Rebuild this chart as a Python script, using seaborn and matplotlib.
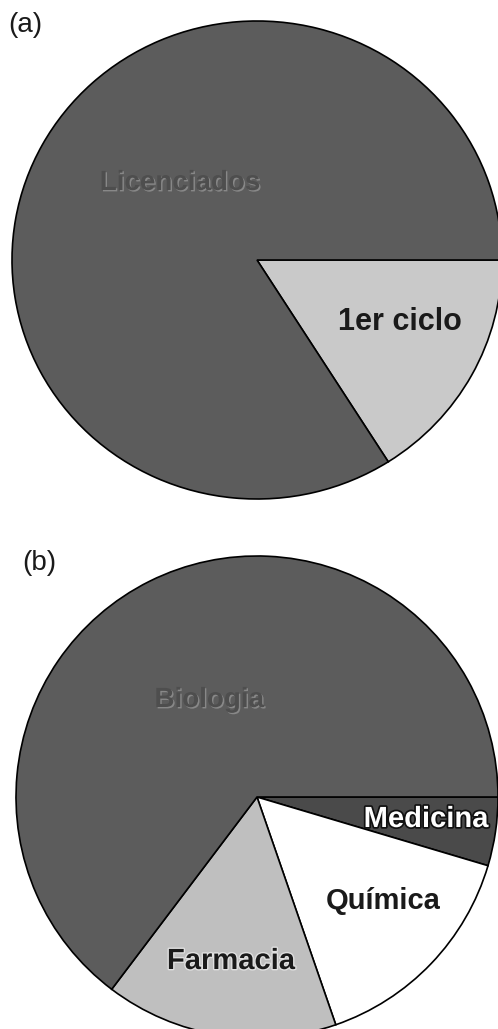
import matplotlib
matplotlib.use("Agg")
import matplotlib.pyplot as plt
import matplotlib.patheffects as pe
import seaborn as sns

# Data (a)
labels_a = ["1er ciclo", "Licenciados"]
values_a = [16.0, 84.0]
colors_a = ["#c9c9c9", "#5c5c5c"]

# Data (b)
labels_b = ["Medicina", "Química", "Farmacia", "Biologia"]
values_b = [4.6, 15.1, 15.6, 64.7]
colors_b = ["#4a4a4a", "#ffffff", "#bfbfbf", "#5c5c5c"]

sns.set_theme(style="white")
plt.rcParams["font.family"] = ["Liberation Sans", "DejaVu Sans"]

W, H = 498, 1029
fig = plt.figure(figsize=(W / 100, H / 100), dpi=100)
fig.patch.set_facecolor("white")


def pie_axes(cx, cy, rx, ry):
    ax = fig.add_axes([(cx - rx) / W, (H - cy - ry) / H, 2 * rx / W, 2 * ry / H])
    return ax


wedge_kw = dict(edgecolor="black", linewidth=1.2)

# ---- (a)
CX1, CY1, RX1, RY1 = 257, 260, 245, 239
ax1 = pie_axes(CX1, CY1, RX1, RY1)
ax1.pie(values_a, colors=colors_a, startangle=0, counterclock=False,
        radius=1, wedgeprops=wedge_kw)
ax1.set_xlim(-1, 1)
ax1.set_ylim(-1, 1)
ax1.set_aspect("auto")
ax1.axis("off")

emboss = [pe.SimplePatchShadow(offset=(1, -1), shadow_rgbFace="#8e8e8e", alpha=0.9),
          pe.Normal()]
ax1.text((180 - CX1) / RX1, (CY1 - 183) / RY1, labels_a[1], ha="center", va="center",
         fontsize=20, fontweight="bold", color="#4e4e4e", path_effects=emboss)
ax1.text((400 - CX1) / RX1, (CY1 - 322) / RY1, labels_a[0], ha="center", va="center",
         fontsize=22, fontweight="bold", color="#1a1a1a")

fig.text(8 / W, 1 - 25 / H, "(a)", ha="left", va="center", fontsize=20, color="#1a1a1a")

# ---- (b)
CX2, CY2, RX2, RY2 = 257, 797, 241, 241
ax2 = pie_axes(CX2, CY2, RX2, RY2)
ax2.pie(values_b, colors=colors_b, startangle=0, counterclock=False,
        radius=1, wedgeprops=wedge_kw)
ax2.set_xlim(-1, 1)
ax2.set_ylim(-1, 1)
ax2.set_aspect("auto")
ax2.axis("off")

ax2.text((209 - CX2) / RX2, (CY2 - 700) / RY2, labels_b[3], ha="center", va="center",
         fontsize=20, fontweight="bold", color="#4e4e4e", path_effects=emboss)
ax2.text((426 - CX2) / RX2, (CY2 - 819) / RY2, labels_b[0], ha="center", va="center",
         fontsize=21, fontweight="bold", color="white",
         path_effects=[pe.withStroke(linewidth=2.5, foreground="#111111")])
ax2.text((383 - CX2) / RX2, (CY2 - 901) / RY2, labels_b[1], ha="center", va="center",
         fontsize=21, fontweight="bold", color="#1a1a1a")
ax2.text((231 - CX2) / RX2, (CY2 - 961) / RY2, labels_b[2], ha="center", va="center",
         fontsize=21, fontweight="bold", color="#1a1a1a",
         path_effects=[pe.withStroke(linewidth=2, foreground="#e0e0e0")])

fig.text(22 / W, 1 - 563 / H, "(b)", ha="left", va="center", fontsize=20, color="#1a1a1a")

fig.savefig("out.png", dpi=100)
